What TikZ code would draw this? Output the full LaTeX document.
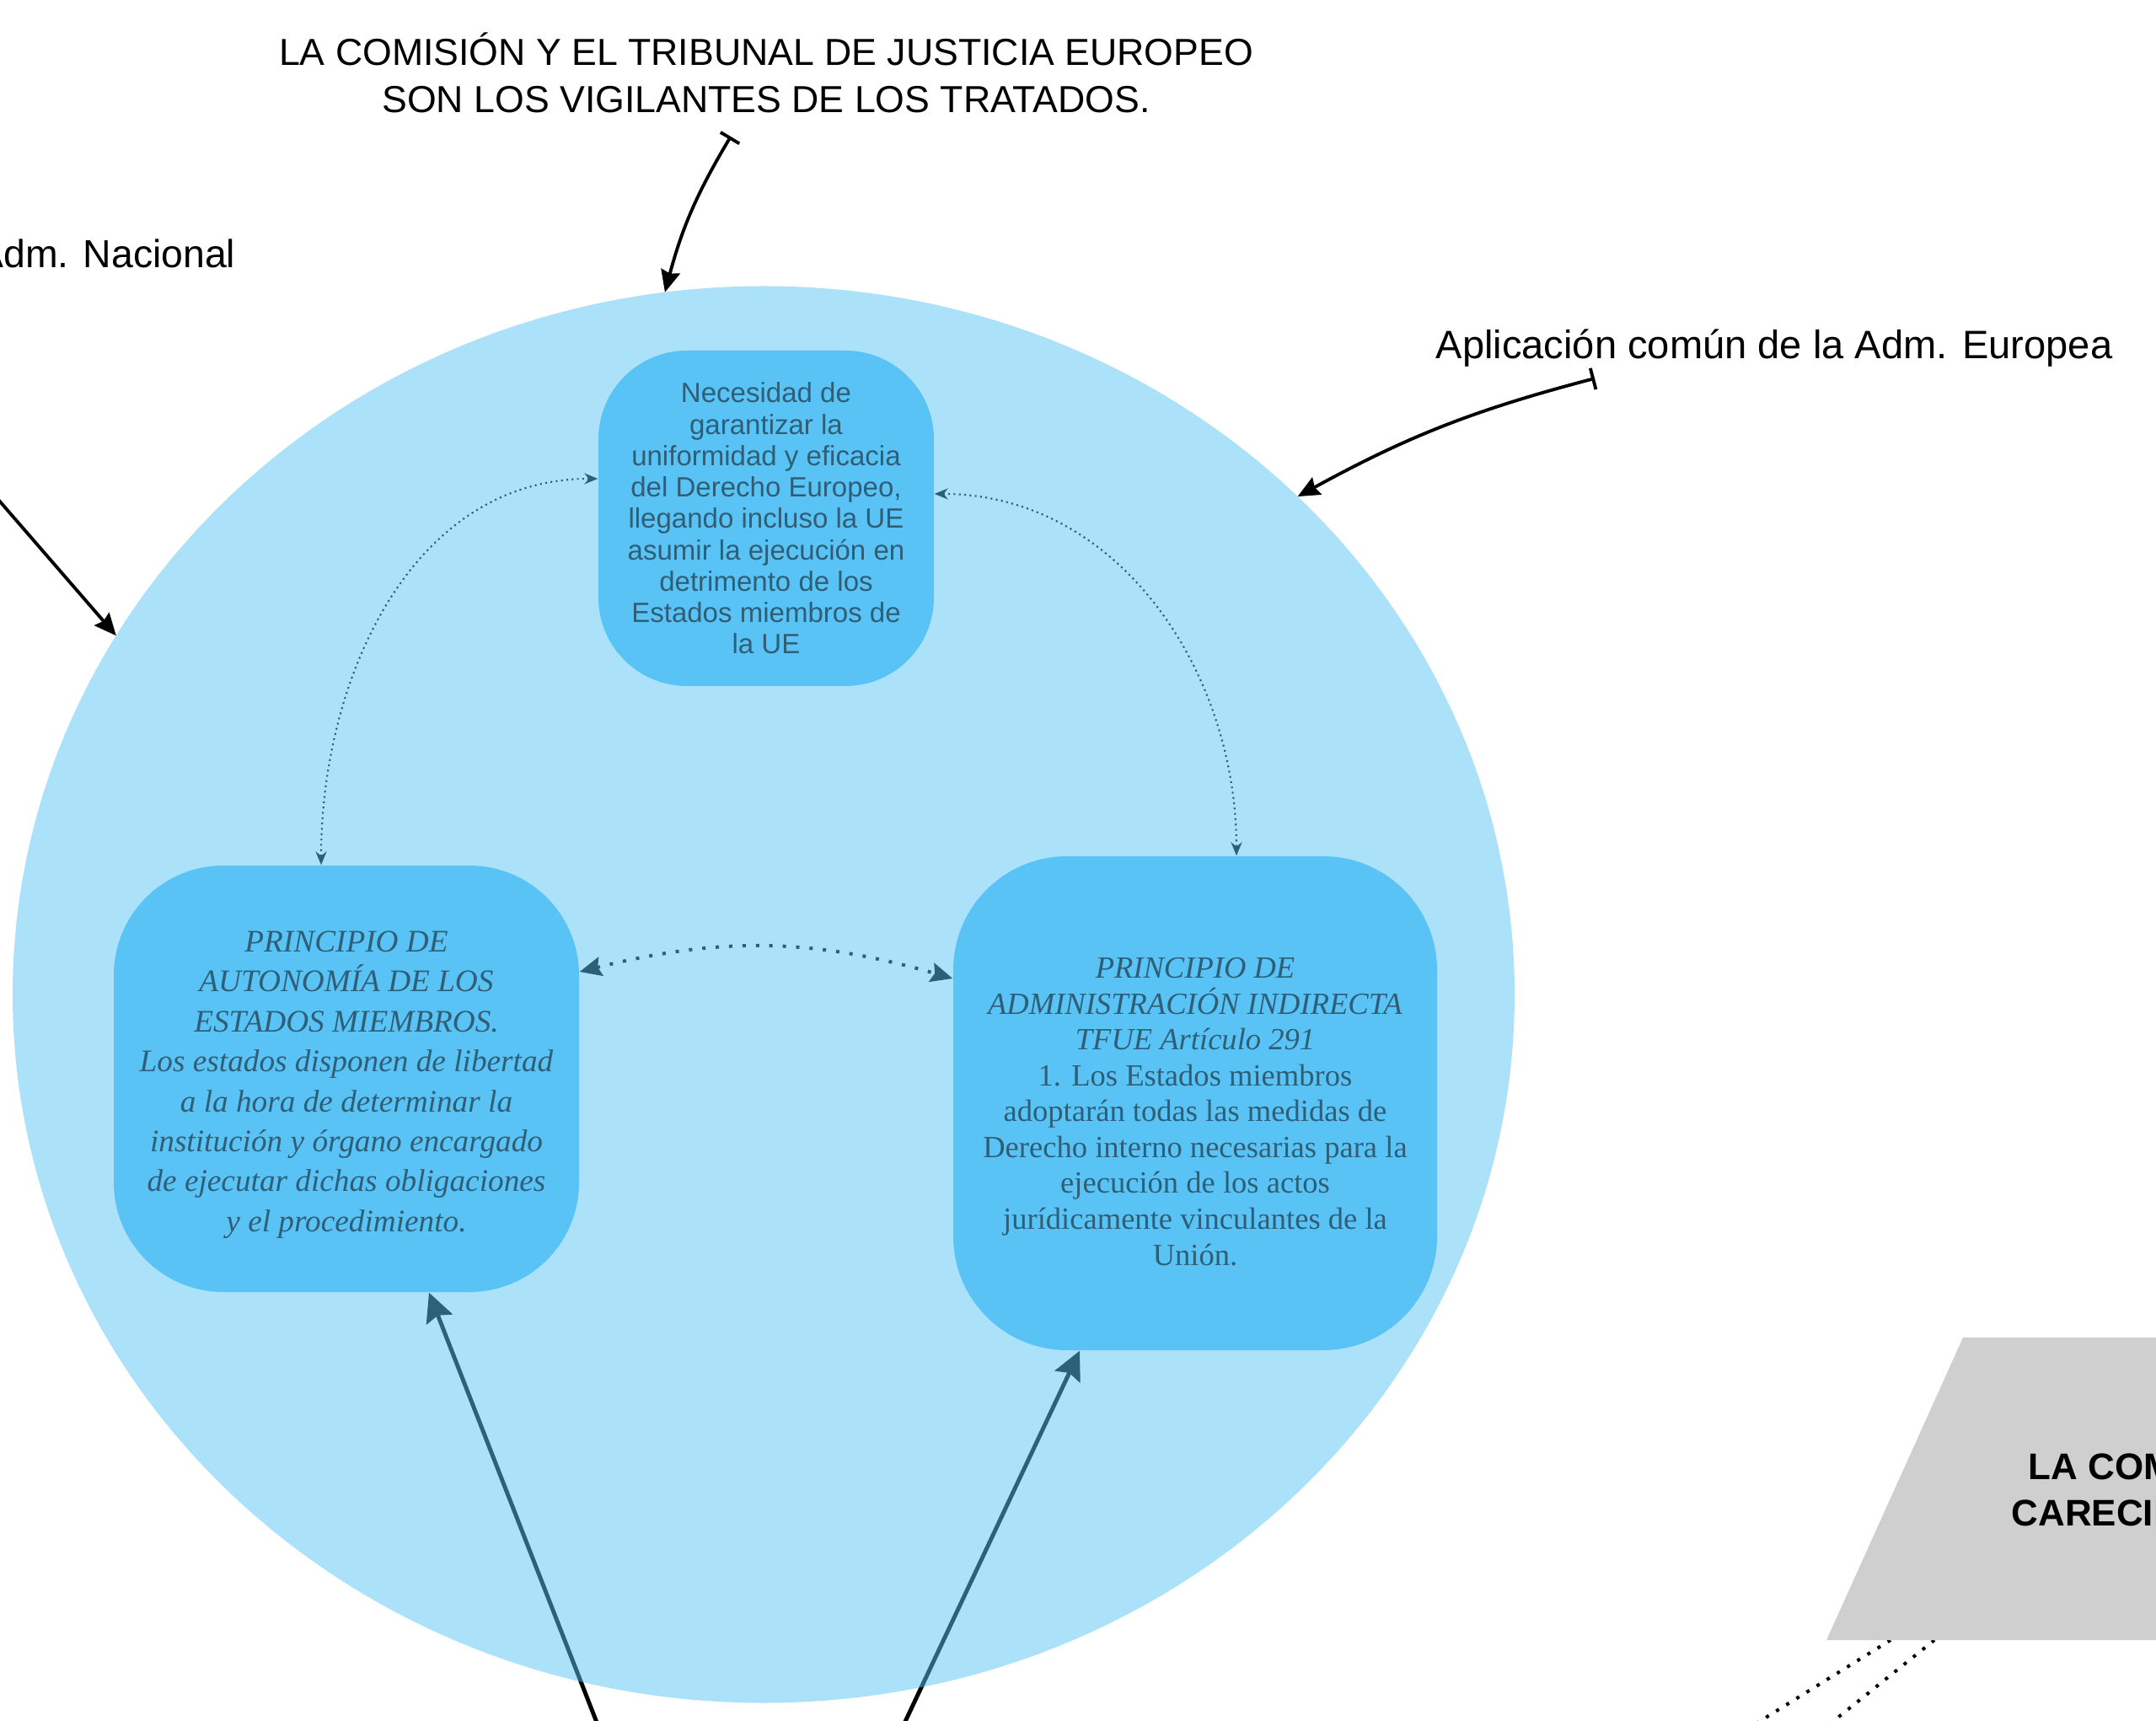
\documentclass[tikz,border=0pt]{standalone}
\usepackage{fontspec}
\setmainfont{Liberation Serif}
\setsansfont{Liberation Sans}
\usetikzlibrary{arrows.meta,shapes.geometric}
\definecolor{boxblue}{HTML}{5AC3F5}
\definecolor{deepteal}{HTML}{2C6079}
\definecolor{boxtext}{HTML}{2F5E77}
\definecolor{grayfill}{HTML}{CFCFCF}
\pgfdeclarelayer{back}
\pgfsetlayers{back,main}

\begin{document}
\begin{tikzpicture}
  [font=\sffamily,
   bubble/.style={ellipse,fill=boxblue,fill opacity=0.5,minimum width=17.82cm,minimum height=16.81cm,inner sep=0pt,outer sep=0pt},
   card/.style={rectangle,fill=boxblue,text=boxtext,align=center,inner sep=0pt},
   note/.style={align=center,font=\sffamily\fontsize{13.4}{16}\selectfont},
   pointer/.style={{Bar[width=2.6mm]}-{Stealth[length=2.6mm,width=2.3mm,inset=0.3mm]},line width=1.1pt},
   feed/.style={-{Stealth[length=3.4mm,width=3.3mm,inset=0.5mm]},line width=1.4pt},
   link/.style={{Stealth[length=1.6mm,width=1.3mm]}-{Stealth[length=1.6mm,width=1.3mm]},deepteal,line width=0.6pt,dash pattern=on 0.6pt off 1.2pt},
   biglink/.style={{Stealth[length=2.6mm,width=2.3mm,inset=0.4mm]}-{Stealth[length=2.6mm,width=2.3mm,inset=0.4mm]},deepteal,line width=1.13pt,dash pattern=on 1.13pt off 3.4pt},
   trail/.style={line width=1.13pt,dash pattern=on 1.13pt off 2.9pt}]

  \useasboundingbox (0,0) rectangle (25.58,-20.42);

  % circle and the three principles
  \node[bubble] (ell) at (9.06,-11.80) {};
  \node[card,minimum width=3.98cm,minimum height=3.98cm,rounded corners=1.05cm,
        font=\sffamily\fontsize{9.4}{10.6}\selectfont] (nec) at (9.09,-6.15)
    {Necesidad de\\garantizar la\\uniformidad y eficacia\\del Derecho Europeo,\\llegando incluso la UE\\asumir la ejecución en\\detrimento de los\\Estados miembros de\\la UE};
  \node[card,minimum width=5.52cm,minimum height=5.06cm,rounded corners=1.3cm,
        font=\rmfamily\itshape\fontsize{10.6}{13.5}\selectfont] (auto) at (4.11,-12.80)
    {\rule{0pt}{11pt}PRINCIPIO DE\\AUTONOMÍA DE LOS\\ESTADOS MIEMBROS.\\Los estados disponen de libertad\\a la hora de determinar la\\institución y órgano encargado\\de ejecutar dichas obligaciones\\y el procedimiento.};
  \node[card,minimum width=5.74cm,minimum height=5.86cm,rounded corners=1.35cm,
        font=\rmfamily\fontsize{10.4}{12.1}\selectfont] (indi) at (14.18,-13.09)
    {\rule{0pt}{12.6pt}\textit{PRINCIPIO DE}\\\textit{ADMINISTRACIÓN INDIRECTA}\\\textit{TFUE Artículo 291}\\1. Los Estados miembros\\adoptarán todas las medidas de\\Derecho interno necesarias para la\\ejecución de los actos\\jurídicamente vinculantes de la\\Unión.};

  % outside labels
  \node[note,font=\sffamily\fontsize{12.7}{15.9}\selectfont] (tit) at (9.09,-0.865)
    {LA COMISIÓN Y EL TRIBUNAL DE JUSTICIA EUROPEO\\SON LOS VIGILANTES DE LOS TRATADOS.};
  \node[note,anchor=base] (eur) at (21.05,-4.26) {Aplicación común de la Adm. Europea};
  \node[note,anchor=base east,inner sep=0pt,font=\sffamily\fontsize{13.2}{16}\selectfont] (nac) at (2.80,-3.18) {Adm. Nacional};

  \coordinate (titbar) at (8.67,-1.62);
  \coordinate (eurbar) at (18.92,-4.49);
  \coordinate (nacbar) at (-0.40,-5.49);
  \draw[pointer] (titbar) to[bend right=8] (ell.98);
  \draw[pointer] (eurbar) to[bend right=7] (ell.43);
  \draw[pointer] (nacbar) -- (ell.151);

  % links between the principles
  \draw[link] ([yshift=0.47cm]nec.west) to[out=180,in=90] ([xshift=-0.30cm]auto.north);
  \draw[link] ([yshift=0.29cm]nec.east) to[out=0,in=90] ([xshift=0.49cm]indi.north);
  \draw[biglink] ([yshift=1.27cm]auto.east) to[bend left=15] ([yshift=1.48cm]indi.west);

  % arrows coming from below, under the circle
  \coordinate (srcA) at (7.30,-21.0);
  \coordinate (srcB) at (10.47,-21.0);
  \begin{pgfonlayer}{back}
    \draw[feed] (srcA) -- ([xshift=0.98cm]auto.south);
    \draw[feed] (srcB) -- ([xshift=-1.37cm]indi.south);
  \end{pgfonlayer}

  % grey box on the right
  \coordinate (gdotA) at (22.43,-19.46);
  \coordinate (gdotB) at (22.95,-19.46);
  \coordinate (gendA) at (19.95,-21.0);
  \coordinate (gendB) at (21.03,-21.0);
  \draw[trail] (gdotA) -- (gendA);
  \draw[trail] (gdotB) -- (gendB);
  \fill[grayfill] (21.67,-19.46) -- (23.29,-15.87) -- (28.6,-15.87) -- (27.0,-19.46) -- cycle;
  \node[font=\sffamily\bfseries\fontsize{12.5}{15.6}\selectfont,align=left,anchor=west,inner sep=0pt] (lacom) at (23.86,-17.64)
    {\hspace*{0.2cm}LA COMISIÓN\\CARECIENDO};
\end{tikzpicture}
\end{document}
